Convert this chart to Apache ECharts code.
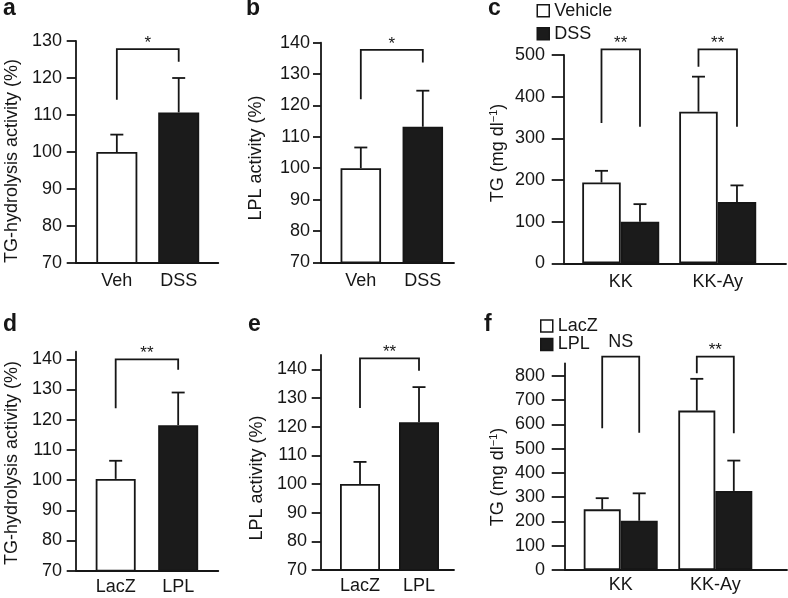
<!DOCTYPE html>
<html><head><meta charset="utf-8">
<script src="https://cdn.jsdelivr.net/npm/echarts@6/dist/echarts.min.js"></script>
<style>html,body{margin:0;padding:0;background:#fff}#c{width:788px;height:598px}</style>
</head><body><div id="c"></div>
<script>
// ---------------- data ----------------
// Panel a
const catsA = ['Veh', 'DSS'];
const meanA = [100, 110.7];
const semA = [4.7, 9.3];
const ticksA = [70, 80, 90, 100, 110, 120, 130];
const sigA = [[0, 1, 127.8, 114.1, 124.4, '*']];   // [left cat, right cat, top, left foot, right foot, label]

// Panel b
const catsB = ['Veh', 'DSS'];
const meanB = [100, 113.2];
const semB = [6.6, 11.5];
const ticksB = [70, 80, 90, 100, 110, 120, 130, 140];
const sigB = [[0, 1, 137.7, 122, 133.7, '*']];

// Panel c
const catsC = ['KK', 'KK-Ay'];
const namesC = ['Vehicle', 'DSS'];
const vehicleC = [194, 364];
const vehicleSemC = [28, 84];
const dssC = [100, 147];
const dssSemC = [42, 40];
const ticksC = [0, 100, 200, 300, 400, 500];
const sigC = [[0, 513.6, 337, 328, '**'], [1, 513.6, 472, 328, '**']]; // [cat, top, left foot, right foot, label]

// Panel d
const catsD = ['LacZ', 'LPL'];
const meanD = [100.4, 118.2];
const semD = [6.0, 10.8];
const ticksD = [70, 80, 90, 100, 110, 120, 130, 140];
const sigD = [[0, 1, 140, 123.8, 136.5, '**']];

// Panel e
const catsE = ['LacZ', 'LPL'];
const meanE = [100, 121.5];
const semE = [7.7, 12.3];
const ticksE = [70, 80, 90, 100, 110, 120, 130, 140];
const sigE = [[0, 1, 143.8, 126.5, 139.5, '**']];

// Panel f
const catsF = ['KK', 'KK-Ay'];
const namesF = ['LacZ', 'LPL'];
const lacZF = [250, 657];
const lacZSemF = [46, 131];
const lplF = [203, 326];
const lplSemF = [113, 125];
const ticksF = [0, 100, 200, 300, 400, 500, 600, 700, 800];
const sigF = [[0, 879.6, 584, 566, 'NS'], [1, 879.6, 811, 563.7, '**']];

// ---------------- layout / style ----------------
const FONT = '"Liberation Sans", Arial, Helvetica, sans-serif';
const INK = '#161616';
const LW = 1.8;
const FILLS = ['#ffffff', '#1b1b1b'];
const FS = 18;

const LAY = [
  {left: 76,  top: 41,     width: 142.3, height: 222,    ymax: 130,   xmin: -0.66,  xmax: 1.64,  bw: 41,   tick: 9.3,  lm: 14, xm: 9.5},
  {left: 321, top: 42.7,   width: 133,   height: 219.6,  ymax: 140,   xmin: -0.642, xmax: 1.503, bw: 40.5, tick: 8,    lm: 11, xm: 9.5},
  {left: 564, top: 55,     width: 222,   height: 208.3,  ymax: 500,   xmin: -0.585, xmax: 1.704, bw: 38.5, tick: 12.3, lm: 19, xm: 9.5},
  {left: 76,  top: 351.75, width: 142.3, height: 218.95, ymax: 142.5, xmin: -0.635, xmax: 1.642, bw: 40,   tick: 9.3,  lm: 14, xm: 7},
  {left: 321, top: 355,    width: 133,   height: 215,    ymax: 145,   xmin: -0.661, xmax: 1.593, bw: 40,   tick: 9.3,  lm: 14, xm: 7.5},
  {left: 565, top: 363.3,  width: 222,   height: 206.7,  ymax: 852,   xmin: -0.589, xmax: 1.758, bw: 37,   tick: 13.3, lm: 20, xm: 6}
];

const grids = [], xAxes = [], yAxes = [], series = [];

function addAxes(gi, cats, ticks) {
  const l = LAY[gi];
  grids.push({left: l.left, top: l.top, width: l.width, height: l.height, containLabel: false, outerBoundsMode: 'none'});
  xAxes.push({
    type: 'value', gridIndex: gi, min: l.xmin, max: l.xmax,
    axisLine: {show: true, onZero: false, lineStyle: {color: INK, width: LW}},
    axisTick: {show: false},
    splitLine: {show: false},
    axisLabel: {customValues: cats.map((c, i) => i), formatter: v => cats[Math.round(v)],
      margin: l.xm, color: INK, fontSize: FS, fontFamily: FONT}
  });
  yAxes.push({
    type: 'value', gridIndex: gi, min: ticks[0], max: l.ymax,
    axisLine: {show: true, onZero: false, lineStyle: {color: INK, width: LW}},
    axisTick: {show: true, customValues: ticks, length: l.tick, lineStyle: {color: INK, width: LW}},
    splitLine: {show: false},
    axisLabel: {customValues: ticks, margin: l.lm, color: INK, fontSize: FS, fontFamily: FONT}
  });
}

function errSeries(gi, means, sems, side) {
  const l = LAY[gi];
  return {
    type: 'custom', xAxisIndex: gi, yAxisIndex: gi, clip: false, silent: true, z: 4,
    data: means.map((m, i) => [i, m, m + sems[i]]),
    renderItem(params, api) {
      const b = api.coord([api.value(0), api.value(1)]);
      const t = api.coord([api.value(0), api.value(2)]);
      const x = b[0] + side * l.bw / 2;
      const cap = 13;
      return {type: 'group', children: [
        {type: 'line', shape: {x1: x, y1: b[1], x2: x, y2: t[1]}, style: {stroke: INK, lineWidth: LW}},
        {type: 'line', shape: {x1: x - cap / 2, y1: t[1], x2: x + cap / 2, y2: t[1]}, style: {stroke: INK, lineWidth: LW}}
      ]};
    }
  };
}

function sigSeries(gi, rows, labels, dx) {
  return {
    type: 'custom', xAxisIndex: gi, yAxisIndex: gi, clip: false, silent: true, z: 4,
    data: rows,
    renderItem(params, api) {
      const xl = api.coord([api.value(0), api.value(2)])[0] + dx[0];
      const xr = api.coord([api.value(1), api.value(2)])[0] + dx[1];
      const yt = api.coord([0, api.value(2)])[1];
      const yl = api.coord([0, api.value(3)])[1];
      const yr = api.coord([0, api.value(4)])[1];
      const lab = labels[params.dataIndex];
      const off = lab === 'NS' ? 15 : 6;
      return {type: 'group', children: [
        {type: 'polyline', shape: {points: [[xl, yl], [xl, yt], [xr, yt], [xr, yr]]},
          style: {stroke: INK, lineWidth: LW, fill: null}},
        {type: 'text', x: (xl + xr) / 2, y: yt - off,
          style: {text: lab, align: 'center', verticalAlign: 'middle', fontSize: lab === 'NS' ? FS : 17, fontFamily: FONT, fill: INK}}
      ]};
    }
  };
}

function singlePanel(gi, cats, means, sems, ticks, sig) {
  addAxes(gi, cats, ticks);
  series.push({
    type: 'bar', name: 'panel' + gi, xAxisIndex: gi, yAxisIndex: gi, barWidth: LAY[gi].bw, z: 2, silent: true,
    data: means.map((m, i) => ({value: [i, m], itemStyle: {color: FILLS[i]}})),
    itemStyle: {borderColor: INK, borderWidth: LW}
  });
  series.push(errSeries(gi, means, sems, 0));
  series.push(sigSeries(gi, sig.map(s => s.slice(0, 5)), sig.map(s => s[5]), [0, 0]));
}

function groupedPanel(gi, cats, names, vals, sems, ticks, sig) {
  addAxes(gi, cats, ticks);
  names.forEach((n, k) => {
    series.push({
      type: 'bar', name: n, xAxisIndex: gi, yAxisIndex: gi, barWidth: LAY[gi].bw, barGap: '0%', z: 2, silent: true,
      data: vals[k].map((v, i) => [i, v]),
      itemStyle: {color: FILLS[k], borderColor: INK, borderWidth: LW}
    });
    series.push(errSeries(gi, vals[k], sems[k], k === 0 ? -1 : 1));
  });
  const h = LAY[gi].bw / 2;
  series.push(sigSeries(gi, sig.map(s => [s[0], s[0], s[1], s[2], s[3]]), sig.map(s => s[4]), [-h, h]));
}

singlePanel(0, catsA, meanA, semA, ticksA, sigA);
singlePanel(1, catsB, meanB, semB, ticksB, sigB);
groupedPanel(2, catsC, namesC, [vehicleC, dssC], [vehicleSemC, dssSemC], ticksC, sigC);
singlePanel(3, catsD, meanD, semD, ticksD, sigD);
singlePanel(4, catsE, meanE, semE, ticksE, sigE);
groupedPanel(5, catsF, namesF, [lacZF, lplF], [lacZSemF, lplSemF], ticksF, sigF);

function letter(t, x, y) {
  return {type: 'text', x: x, y: y, silent: true,
    style: {text: t, fontSize: 23, fontWeight: 'bold', fontFamily: FONT, fill: INK, verticalAlign: 'middle'}};
}
function ytitle(t, x, y) {
  return {type: 'text', x: x, y: y, rotation: Math.PI / 2, silent: true,
    style: {text: t, fontSize: FS, fontFamily: FONT, fill: INK, align: 'center', verticalAlign: 'middle'}};
}
function tgTitle(x, y) {
  return {type: 'text', x: x, y: y, rotation: Math.PI / 2, silent: true,
    style: {text: '{a|TG (mg dl}{s|−1}{a|)}', align: 'center', verticalAlign: 'middle',
      rich: {
        a: {fontSize: FS, fontFamily: FONT, fill: INK, color: INK, lineHeight: 19, verticalAlign: 'middle'},
        s: {fontSize: 11, fontFamily: FONT, fill: INK, color: INK, lineHeight: 19, verticalAlign: 'top'}
      }}};
}

const legendBase = {
  orient: 'vertical', itemWidth: 12, itemHeight: 12, icon: 'rect', selectedMode: false, padding: 0,
  itemStyle: {borderWidth: 1.5, borderColor: INK},
  textStyle: {fontSize: FS, fontFamily: FONT, color: INK}
};

const option = {
  animation: false,
  backgroundColor: '#ffffff',
  grid: grids, xAxis: xAxes, yAxis: yAxes, series: series,
  legend: [
    Object.assign({}, legendBase, {data: namesC, left: 536.5, top: 1.8, itemGap: 5}),
    Object.assign({}, legendBase, {data: namesF, left: 540, top: 317, itemGap: 0.5})
  ],
  graphic: [
    letter('a', 3, 9), letter('b', 246, 9), letter('c', 488, 9),
    letter('d', 3, 325), letter('e', 248, 325), letter('f', 484, 325),
    ytitle('TG-hydrolysis activity (%)', 12.5, 161),
    ytitle('LPL activity (%)', 256.5, 158),
    tgTitle(498, 153),
    ytitle('TG-hydrolysis activity (%)', 12.5, 463),
    ytitle('LPL activity (%)', 257, 478),
    tgTitle(498, 477)
  ]
};

const chart = echarts.init(document.getElementById('c'), null, {renderer: 'canvas', width: 788, height: 598});
chart.setOption(option);
</script>
</body></html>
